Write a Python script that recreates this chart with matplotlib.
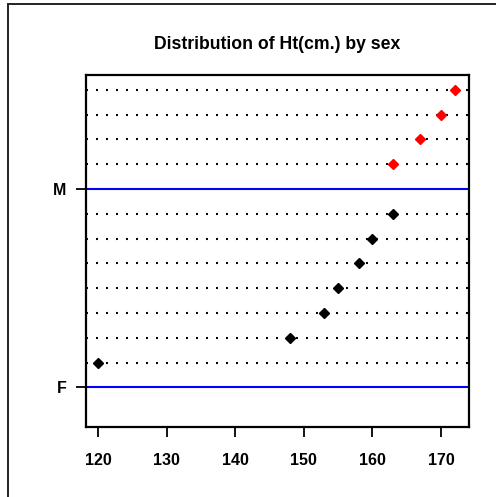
import matplotlib
matplotlib.use("Agg")
import matplotlib.pyplot as plt
from matplotlib.patches import Rectangle

plt.rcParams["font.family"] = ["Liberation Sans", "DejaVu Sans"]
plt.rcParams["font.weight"] = "bold"
plt.rcParams["lines.scale_dashes"] = False

groups = ["F", "M"]
ht_f = [120, 148, 153, 155, 158, 160, 163]
ht_m = [163, 167, 170, 172]
colors = {"F": "black", "M": "red"}
xticks = [120, 130, 140, 150, 160, 170]

fig = plt.figure(figsize=(4.96, 4.97), dpi=100)
W, H = 496, 497
ax = fig.add_axes([86 / W, 1 - 427 / H, (469 - 86) / W, (427 - 75) / H])

# outer frame (cut off at right/bottom)
fig.patches.append(Rectangle((8 / W, -0.1), 1.2, 1 - 3.5 / H + 0.1,
                             transform=fig.transFigure, fill=False,
                             edgecolor="#222222", lw=1.4))

pos = 0
group_pos = []
for g, vals in zip(groups, [ht_f, ht_m]):
    group_pos.append(pos)
    ax.axhline(pos, color="blue", lw=1.5)
    for v in vals:
        pos += 1
        ax.axhline(pos, color="black", lw=1.5, dashes=(1.4, 5.8), dash_capstyle="butt")
        ax.plot(v, pos, marker="D", ms=5.2, color=colors[g], mec=colors[g], zorder=3)
    pos += 1

ax.set_xlim(118.25, 174.08)
ax.set_ylim(-1.6, 12.6)
ax.set_xticks(xticks)
ax.set_yticks(group_pos)
ax.set_yticklabels(groups)
ax.tick_params(axis="both", length=7, width=1.3, labelsize=11.5)
ax.tick_params(axis="x", pad=12)
ax.tick_params(axis="y", pad=7)
for s in ax.spines.values():
    s.set_linewidth(1.6)
ax.set_title("Distribution of Ht(cm.) by sex", fontsize=12.7, fontweight="bold", pad=19)

fig.savefig("out.png", dpi=100)
